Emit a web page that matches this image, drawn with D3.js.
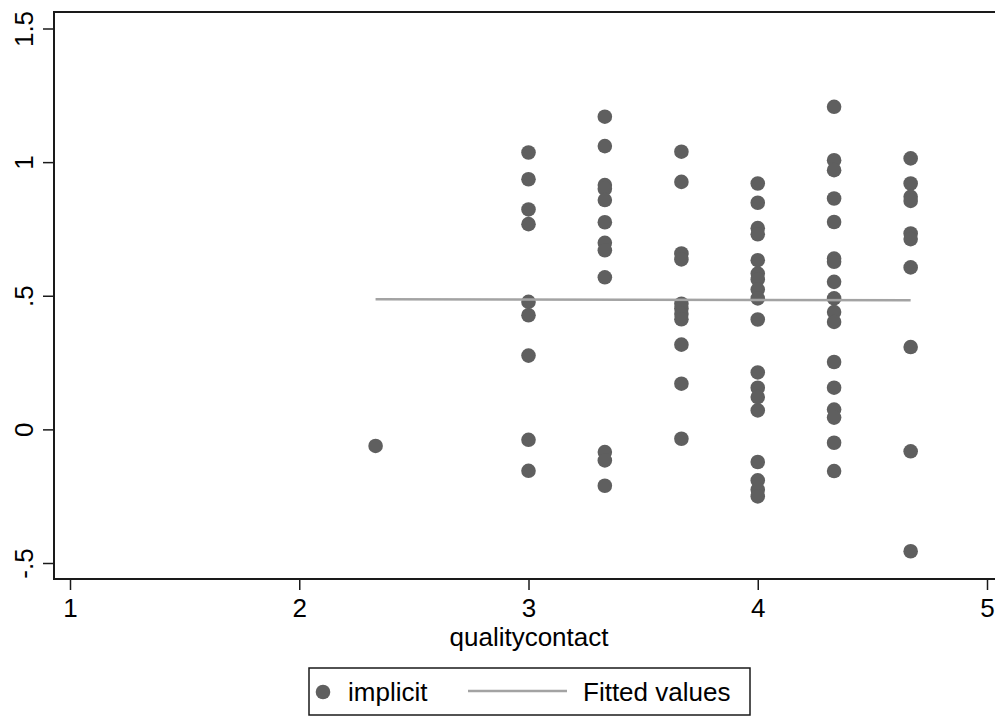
<!DOCTYPE html>
<html>
<head>
<meta charset="utf-8">
<script src="https://cdn.jsdelivr.net/npm/d3@7"></script>
<style>
  body { margin: 0; background: #fff; }
  .chart text { font-family: "Liberation Sans", Arial, sans-serif; fill: #000; }
</style>
</head>
<body>
<div class="chart"></div>
<script>
// x categories (qualitycontact) and the implicit scores at each
var quality = [2.333, 3, 3.333, 3.667, 4, 4.333, 4.667];
var implicitAt2333 = [-0.062];
var implicitAt3 = [1.036, 0.936, 0.823, 0.768, 0.477, 0.427, 0.276, -0.039, -0.155];
var implicitAt3333 = [1.170, 1.060, 0.914, 0.900, 0.858, 0.775, 0.698, 0.670, 0.569, -0.085, -0.116, -0.211];
var implicitAt3667 = [1.039, 0.926, 0.658, 0.636, 0.470, 0.452, 0.432, 0.412, 0.317, 0.171, -0.035];
var implicitAt4 = [0.920, 0.848, 0.753, 0.730, 0.633, 0.583, 0.561, 0.523, 0.490, 0.411, 0.213, 0.156, 0.121, 0.071, -0.122, -0.191, -0.226, -0.251];
var implicitAt4333 = [1.207, 1.007, 0.970, 0.864, 0.776, 0.639, 0.627, 0.552, 0.490, 0.439, 0.402, 0.252, 0.156, 0.074, 0.044, -0.050, -0.156];
var implicitAt4667 = [1.014, 0.920, 0.870, 0.855, 0.733, 0.712, 0.606, 0.308, -0.082, -0.456];

// linear fit
var fitX = [2.333, 4.667];
var fitY = [0.487, 0.483];

var xTicks = [1, 2, 3, 4, 5];
var xTickLabels = ["1", "2", "3", "4", "5"];
var yTicks = [-0.5, 0, 0.5, 1, 1.5];
var yTickLabels = ["-.5", "0", ".5", "1", "1.5"];

var svgWidth = 995;
var svgHeight = 716;

var svg = d3.select(".chart")
  .append("svg")
  .attr("width", svgWidth)
  .attr("height", svgHeight);

var xScale = d3.scaleLinear().domain([1, 5]).range([70, 987]);
var yScale = d3.scaleLinear().domain([-0.5, 1.5]).range([563, 28.5]);

var columns = [implicitAt2333, implicitAt3, implicitAt3333, implicitAt3667, implicitAt4, implicitAt4333, implicitAt4667];
var points = [];
columns.forEach(function(vals, i) {
  vals.forEach(function(v) { points.push({ q: quality[i], implicit: v }); });
});

var plotLeft = 54, plotTop = 12, plotBottom = 579;

// plot region frame
svg.append("rect")
  .attr("x", plotLeft)
  .attr("y", plotTop)
  .attr("width", 1000 - plotLeft)
  .attr("height", plotBottom - plotTop)
  .attr("fill", "none")
  .attr("stroke", "#1a1a1a")
  .attr("stroke-width", 2);

// scatter
svg.append("g")
  .selectAll("circle")
  .data(points)
  .enter()
  .append("circle")
  .attr("cx", function(d) { return xScale(d.q); })
  .attr("cy", function(d) { return yScale(d.implicit); })
  .attr("r", 7.3)
  .attr("fill", "#5f5f5f");

// fitted line
var fitLine = d3.line()
  .x(function(d) { return xScale(d[0]); })
  .y(function(d) { return yScale(d[1]); });

svg.append("path")
  .datum(fitX.map(function(x, i) { return [x, fitY[i]]; }))
  .attr("d", fitLine)
  .attr("fill", "none")
  .attr("stroke", "#a3a3a3")
  .attr("stroke-width", 2.5);

// axes
var bottomAxis = d3.axisBottom(xScale)
  .tickValues(xTicks)
  .tickFormat(function(d, i) { return xTickLabels[i]; })
  .tickSize(11)
  .tickSizeOuter(0)
  .tickPadding(9);

var leftAxis = d3.axisLeft(yScale)
  .tickValues(yTicks)
  .tickFormat(function(d, i) { return yTickLabels[i]; })
  .tickSize(11)
  .tickSizeOuter(0);

var xAxisG = svg.append("g")
  .attr("transform", "translate(0," + plotBottom + ")")
  .call(bottomAxis);

var yAxisG = svg.append("g")
  .attr("transform", "translate(" + plotLeft + ",0)")
  .call(leftAxis);

[xAxisG, yAxisG].forEach(function(g) {
  g.select(".domain").remove();
  g.selectAll(".tick line").attr("stroke", "#1a1a1a").attr("stroke-width", 1.5);
  g.selectAll(".tick text").style("font-size", "26px").attr("fill", "#000");
});

xAxisG.selectAll(".tick text").attr("dy", "0.71em");

yAxisG.selectAll(".tick text")
  .attr("transform", "rotate(-90)")
  .attr("x", 0)
  .attr("y", -21)
  .attr("dy", 0)
  .attr("text-anchor", "middle");

// x axis title
svg.append("text")
  .attr("x", (xScale(1) + xScale(5)) / 2 + 0.5)
  .attr("y", 646)
  .attr("text-anchor", "middle")
  .style("font-size", "26px")
  .text("qualitycontact");

// legend
var legend = svg.append("g");
legend.append("rect")
  .attr("x", 309)
  .attr("y", 668)
  .attr("width", 441)
  .attr("height", 47)
  .attr("fill", "#fff")
  .attr("stroke", "#1a1a1a")
  .attr("stroke-width", 1.5);

legend.append("circle")
  .attr("cx", 323)
  .attr("cy", 692)
  .attr("r", 7.3)
  .attr("fill", "#5f5f5f");

legend.append("text")
  .attr("x", 348)
  .attr("y", 701)
  .style("font-size", "26px")
  .text("implicit");

legend.append("line")
  .attr("x1", 468)
  .attr("x2", 567)
  .attr("y1", 691)
  .attr("y2", 691)
  .attr("stroke", "#a3a3a3")
  .attr("stroke-width", 2.5);

legend.append("text")
  .attr("x", 583)
  .attr("y", 701)
  .style("font-size", "26px")
  .text("Fitted values");
</script>
</body>
</html>
